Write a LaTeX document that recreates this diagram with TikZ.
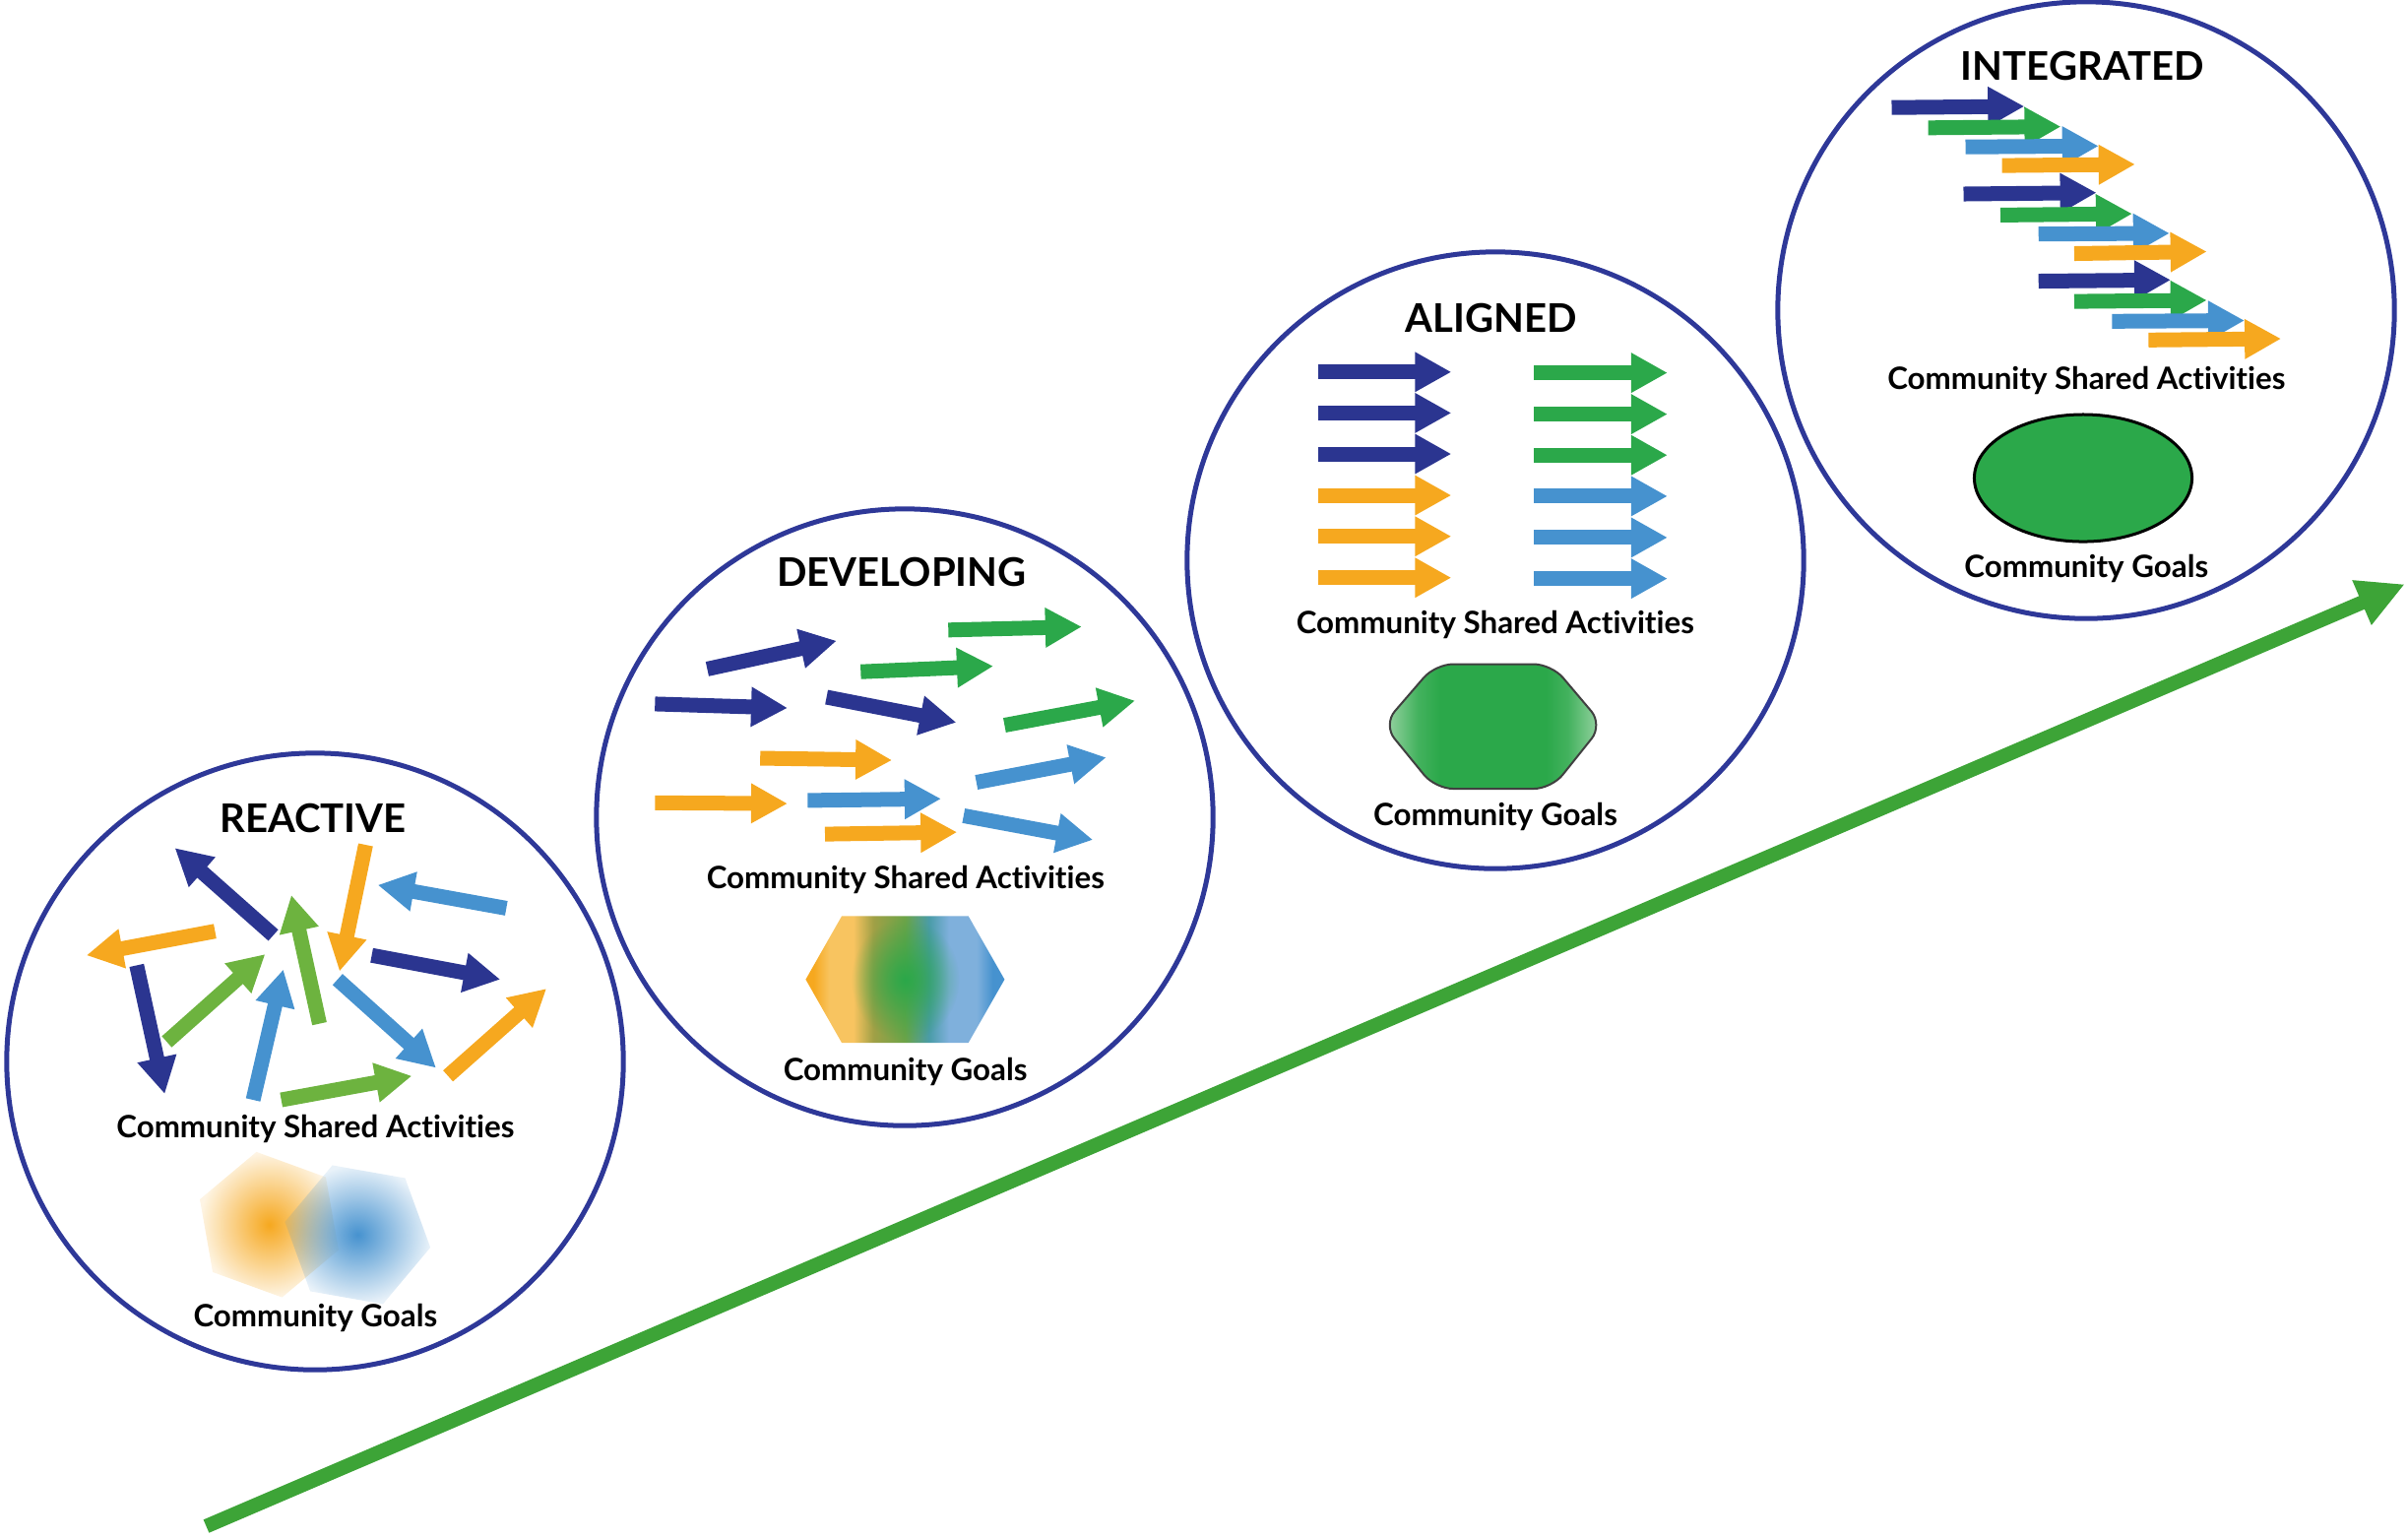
\documentclass[tikz,border=0pt]{standalone}
\usepackage{fontspec}
\setmainfont{Lato}[Ligatures={NoCommon,NoDiscretionary}]
\usetikzlibrary{arrows.meta,fadings,shapes.geometric}
\definecolor{navyC}{RGB}{43,53,144}
\definecolor{ringC}{RGB}{46,56,152}
\definecolor{orangeC}{RGB}{246,168,31}
\definecolor{blueC}{RGB}{70,146,207}
\definecolor{greenC}{RGB}{43,168,74}
\definecolor{limeC}{RGB}{109,179,63}
\definecolor{bigC}{RGB}{61,164,55}
\definecolor{oLight}{RGB}{248,196,96}
\definecolor{olv}{RGB}{160,160,70}
\definecolor{tealC}{RGB}{74,156,168}
\definecolor{bLight}{RGB}{127,176,220}
\definecolor{gLight}{RGB}{160,215,170}
\tikzfading[name=softfade, inner color=transparent!0, outer color=transparent!88]
\tikzfading[name=glowfade, inner color=transparent!0, outer color=transparent!100]
\pgfdeclarehorizontalshading{devgoal}{100bp}{color(0bp)=(orangeC); color(27bp)=(orangeC); color(31bp)=(oLight); color(37bp)=(oLight); color(42bp)=(olv); color(50bp)=(olv!55!greenC); color(56bp)=(tealC); color(61bp)=(bLight); color(68bp)=(bLight); color(72bp)=(blueC); color(100bp)=(blueC)}
\pgfdeclarehorizontalshading{aligngoal}{100bp}{color(0bp)=(gLight); color(25bp)=(gLight); color(33bp)=(greenC!80!gLight); color(38bp)=(greenC); color(62bp)=(greenC); color(67bp)=(greenC!80!gLight); color(75bp)=(gLight); color(100bp)=(gLight)}
\tikzset{
  stage/.style={circle, draw=ringC, line width=0.05cm, minimum size=6.26cm, inner sep=0pt},
  ttl/.style={anchor=base, inner sep=0pt, font=\fontsize{11.4}{13}\selectfont\bfseries},
  lbl/.style={anchor=base, inner sep=0pt, font=\fontsize{8.9}{11}\selectfont\bfseries},
  fa/.style={line width=0.15cm, -{Triangle[length=0.37cm,width=0.38cm]}},
  bigarrow/.style={bigC, line width=0.145cm, -{Triangle[length=0.475cm,width=0.46cm]}},
  goalellipse/.style={ellipse, draw=black, line width=0.03cm, fill=greenC, minimum width=2.21cm, minimum height=1.29cm, inner sep=0pt}
}
\newcommand\farw[3]{\draw[fa,#1] (#2) -- (#3);}
\begin{document}
\begin{tikzpicture}[x=0.01cm,y=-0.01cm]
\useasboundingbox (0,0) rectangle (2446,1562);

% big progress arrow
\coordinate (gs) at (209.5,1550);
\coordinate (ge) at (2442.7,593.3);
\draw[bigarrow] (gs) -- (ge);

% stage circles
\node[stage] (c1) at (320,1078) {};
\node[stage] (c2) at (919,830) {};
\node[stage] (c3) at (1519,569) {};
\node[stage] (c4) at (2119,315) {};

% ---------------- REACTIVE ----------------
\node[ttl] (t1) at (318,845.7) {REACTIVE};
\farw{navyC}{277.6,949.8}{177.6,861.2}
\farw{orangeC}{371.4,858}{344.9,986.5}
\farw{blueC}{514.3,922.4}{383.7,898.8}
\farw{orangeC}{218.4,945.7}{87.8,970.2}
\farw{limeC}{324.5,1039.6}{295.9,909}
\farw{navyC}{377.6,970.2}{508.2,994.7}
\farw{navyC}{138.8,980.4}{167.3,1111}
\farw{limeC}{169.4,1058}{269.4,969}
\farw{blueC}{257.1,1117}{287.8,984.5}
\farw{blueC}{342.9,994.7}{442.9,1084.5}
\farw{orangeC}{455.1,1092.7}{555.1,1004}
\farw{limeC}{285.7,1117}{418.4,1092.7}
\node[lbl] (a1) at (320.4,1155) {Community Shared Activities};
\fill[orangeC, path fading=softfade, shift={(273.5,1243.7)}]
  (200:75) -- (260:75) -- (320:75) -- (20:75) -- (80:75) -- (140:75) -- cycle;
\fill[blueC, path fading=softfade, shift={(363.3,1253.9)}]
  (190:75) -- (250:75) -- (310:75) -- (10:75) -- (70:75) -- (130:75) -- cycle;
\node[lbl] (g1) at (320.4,1347) {Community Goals};

% ---------------- DEVELOPING ----------------
\node[ttl] (t2) at (916,595.7) {DEVELOPING};
\farw{navyC}{718.4,679.4}{849.8,650.8}
\farw{greenC}{963.3,639.8}{1098.8,636.5}
\farw{greenC}{874.3,682.2}{1009,676.5}
\farw{navyC}{665.3,714.9}{800,719}
\farw{navyC}{839.6,708}{971.4,733.7}
\farw{greenC}{1020.4,736.5}{1153,711.6}
\farw{orangeC}{772.2,770}{906.1,772}
\farw{blueC}{991.8,794.5}{1123.7,769.2}
\farw{orangeC}{665.3,815.3}{800,816.1}
\farw{blueC}{820.4,812.9}{955.9,811.2}
\farw{orangeC}{838,847.1}{972.2,845.1}
\farw{blueC}{978.8,828.4}{1110.2,852.9}
\node[lbl] (a2) at (919.8,902.7) {Community Shared Activities};
\shade[shading=devgoal] (818.4,994.7) -- (855,930.4) -- (983.7,930.4) -- (1020.4,994.7) -- (983.7,1059) -- (855,1059) -- cycle;
\fill[greenC, path fading=glowfade] (919.4,994.7) ellipse [x radius=55, y radius=62];
\node[lbl] (g2) at (919.6,1097) {Community Goals};

% ---------------- ALIGNED ----------------
\node[ttl] (t3) at (1514.7,337.8) {ALIGNED};
\farw{navyC}{1338.8,377.8}{1474.3,377.8}
\farw{navyC}{1338.8,419.4}{1474.3,419.4}
\farw{navyC}{1338.8,461}{1474.3,461}
\farw{orangeC}{1338.8,503}{1474.3,503}
\farw{orangeC}{1338.8,544.7}{1474.3,544.7}
\farw{orangeC}{1338.8,586.7}{1474.3,586.7}
\farw{greenC}{1558,378.6}{1693.9,378.6}
\farw{greenC}{1558,420.6}{1693.9,420.6}
\farw{greenC}{1558,462.2}{1693.9,462.2}
\farw{blueC}{1558,503.9}{1693.9,503.9}
\farw{blueC}{1558,545.9}{1693.9,545.9}
\farw{blueC}{1558,587.6}{1693.9,587.6}
\node[lbl] (a3) at (1518.8,643.9) {Community Shared Activities};
\shade[shading=aligngoal, draw=black!75, line width=0.02cm, rounded corners=0.18cm]
  (1405,736) -- (1458,674.5) -- (1576,674.5) -- (1628,736) -- (1576,801) -- (1458,801) -- cycle;
\node[lbl] (g3) at (1519,838.6) {Community Goals};

% ---------------- INTEGRATED ----------------
\node[ttl] (t4) at (2115.2,81.2) {INTEGRATED};
\farw{navyC}{1921.5,109.2}{2056.3,108}
\farw{greenC}{1958.6,129.8}{2093.4,128.6}
\farw{blueC}{1996.5,149.2}{2131.7,148.3}
\farw{orangeC}{2033.6,168.1}{2168.8,166.9}
\farw{navyC}{1994.5,197}{2129.6,195.7}
\farw{greenC}{2032,218.4}{2165.9,217.1}
\farw{blueC}{2070.7,237.7}{2203.8,236.9}
\farw{orangeC}{2107,257.5}{2241.7,255.5}
\farw{navyC}{2070.7,285.5}{2205,284.3}
\farw{greenC}{2107,306.1}{2241.7,304.9}
\farw{blueC}{2145.3,326.3}{2280,325.5}
\farw{orangeC}{2182.4,345.3}{2317.1,344}
\node[lbl] (a4) at (2119.3,395.6) {Community Shared Activities};
\node[goalellipse] (e4) at (2116,485.5) {};
\node[lbl] (g4) at (2119.3,586.3) {Community Goals};
\end{tikzpicture}
\end{document}
